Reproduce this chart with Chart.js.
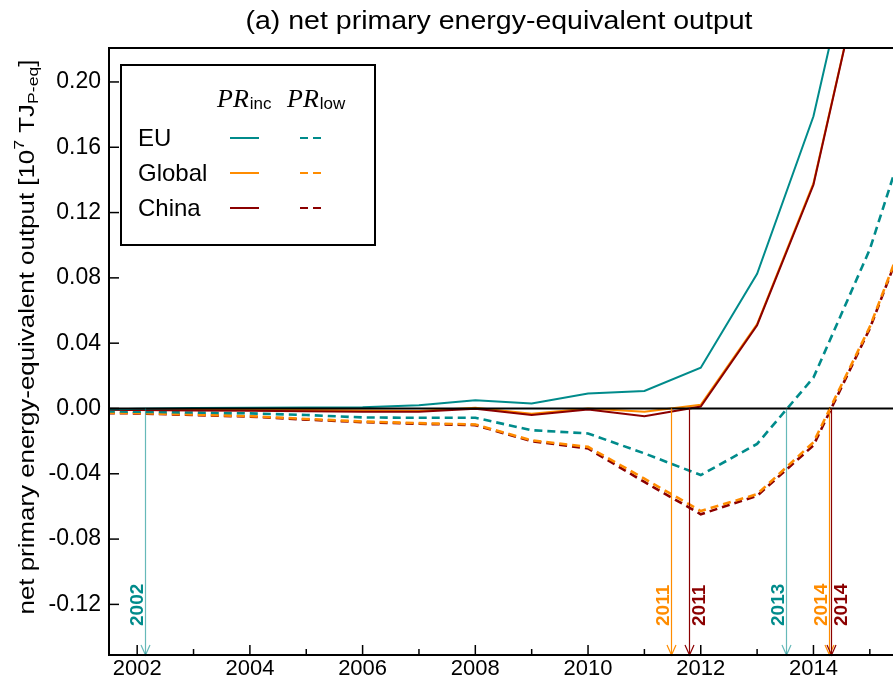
<!DOCTYPE html>
<html>
<head>
<meta charset="utf-8">
<script src="https://cdn.jsdelivr.net/npm/chart.js@4.4.1/dist/chart.umd.min.js"></script>
<style>
html, body { margin: 0; padding: 0; overflow: hidden; background: #fff; }
#caja { width: 893px; height: 682px; overflow: hidden; }
</style>
</head>
<body>
<div id="caja"><canvas id="grafico1" width="900" height="682" style="width:900px;height:682px"></canvas></div>
<script>
// datos (10^7 TJ P-eq)
var years = [2001, 2002, 2003, 2004, 2005, 2006, 2007, 2008, 2009, 2010, 2011, 2012, 2013, 2014, 2015, 2016];

var euInc     = [-0.0010, -0.0002, 0.0003, 0.0005, 0.0006, 0.0008, 0.0020, 0.0051, 0.0031, 0.0092, 0.0107, 0.0250, 0.0825, 0.1790, 0.3300, 0.4800];
var globalInc = [-0.0005, -0.0006, -0.0007, -0.0008, -0.0010, -0.0012, -0.0015, 0.0004, -0.0033, 0.0000, -0.0020, 0.0023, 0.0517, 0.1380, 0.2900, 0.4400];
var chinaInc  = [-0.0008, -0.0010, -0.0012, -0.0014, -0.0017, -0.0020, -0.0020, -0.0002, -0.0040, -0.0006, -0.0047, 0.0012, 0.0510, 0.1370, 0.2900, 0.4400];

var euLow     = [-0.0015, -0.0020, -0.0025, -0.0030, -0.0040, -0.0055, -0.0057, -0.0057, -0.0133, -0.0153, -0.0275, -0.0408, -0.0217, 0.0189, 0.0975, 0.2050];
var globalLow = [-0.0025, -0.0028, -0.0037, -0.0047, -0.0064, -0.0080, -0.0090, -0.0098, -0.0195, -0.0235, -0.0430, -0.0628, -0.0525, -0.0207, 0.0500, 0.1400];
var chinaLow  = [-0.0027, -0.0030, -0.0040, -0.0050, -0.0068, -0.0084, -0.0094, -0.0102, -0.0200, -0.0245, -0.0450, -0.0648, -0.0535, -0.0226, 0.0490, 0.1390];

// flechas: año de break-even
var arrowYears  = [2002.13, 2011.47, 2011.80, 2013.52, 2014.28, 2014.31];
var arrowLabels = ['2002', '2011', '2011', '2013', '2014', '2014'];
var arrowSeries = ['EU', 'Global', 'China', 'EU', 'Global', 'China'];

var xTicks = [2002, 2003, 2004, 2005, 2006, 2007, 2008, 2009, 2010, 2011, 2012, 2013, 2014, 2015];
var yTicks = [-0.12, -0.08, -0.04, 0.00, 0.04, 0.08, 0.12, 0.16, 0.20];

var regions = ['EU', 'Global', 'China'];
var colores = { EU: '#008b8b', Global: '#ff8c00', China: '#8b0000' };
var SANS = '"Liberation Sans", Arial, Helvetica, sans-serif';

function puntos(arr) {
    return years.map(function (yr, i) { return { x: yr, y: arr[i] }; });
}

function serie(nombre, arr, color, dashed, orden) {
    return {
        label: nombre,
        data: puntos(arr),
        borderColor: color,
        borderWidth: dashed ? 2.6 : 2,
        borderDash: dashed ? [8, 5] : [],
        pointRadius: 0,
        fill: false,
        tension: 0,
        clip: 0,
        order: orden
    };
}

function linea(ctx, x1, y1, x2, y2) {
    ctx.beginPath();
    ctx.moveTo(x1, y1);
    ctx.lineTo(x2, y2);
    ctx.stroke();
}

var extras = {
    id: 'extras',
    afterDatasetsDraw: function (chart) {
        var ctx = chart.ctx;
        var a = chart.chartArea;
        var xs = chart.scales.x, ys = chart.scales.y;
        var y0 = ys.getPixelForValue(0);
        ctx.save();

        // linea del cero
        ctx.strokeStyle = '#000';
        ctx.lineWidth = 2;
        linea(ctx, a.left, y0, a.right, y0);

        // flechas
        for (var i = 0; i < arrowYears.length; i++) {
            var x = Math.round(xs.getPixelForValue(arrowYears[i])) + 0.5;
            var col = colores[arrowSeries[i]];
            ctx.strokeStyle = arrowSeries[i] === 'EU' ? 'rgba(0,139,139,0.6)' : col;
            ctx.lineWidth = 1.2;
            linea(ctx, x, y0, x, a.bottom);
            ctx.beginPath();
            ctx.moveTo(x - 4.5, a.bottom - 10);
            ctx.lineTo(x, a.bottom);
            ctx.lineTo(x + 4.5, a.bottom - 10);
            ctx.stroke();

            ctx.save();
            var derecha = arrowSeries[i] === 'China';
            ctx.translate(derecha ? x + 15 : x - 3, 626);
            ctx.rotate(-Math.PI / 2);
            ctx.font = 'bold 19px ' + SANS;
            ctx.fillStyle = col;
            ctx.textAlign = 'left';
            ctx.textBaseline = 'alphabetic';
            ctx.fillText(arrowLabels[i], 0, 0);
            ctx.restore();
        }

        // marco
        ctx.strokeStyle = '#000';
        ctx.lineWidth = 2;
        ctx.strokeRect(a.left, a.top, a.right - a.left, a.bottom - a.top);

        // ticks hacia dentro
        ctx.lineWidth = 1.5;
        yTicks.forEach(function (v) {
            var py = ys.getPixelForValue(v);
            linea(ctx, a.left, py, a.left + 10, py);
        });
        xTicks.forEach(function (v) {
            var px = xs.getPixelForValue(v);
            linea(ctx, px, a.bottom, px, a.bottom - (v % 2 === 0 ? 10 : 6));
        });

        // leyenda
        ctx.fillStyle = '#fff';
        ctx.fillRect(121, 65, 254, 180);
        ctx.lineWidth = 2;
        ctx.strokeStyle = '#000';
        ctx.strokeRect(121, 65, 254, 180);

        ctx.fillStyle = '#000';
        ctx.textAlign = 'left';
        ctx.textBaseline = 'alphabetic';
        [['inc', 217], ['low', 287]].forEach(function (h) {
            ctx.font = 'italic 26px "Liberation Serif", "Times New Roman", serif';
            ctx.fillText('PR', h[1], 107);
            var w = ctx.measureText('PR').width;
            ctx.font = '17px ' + SANS;
            ctx.fillText(h[0], h[1] + w + 1, 109);
        });

        regions.forEach(function (r, k) {
            var yy = 138 + k * 35;
            ctx.font = '24px ' + SANS;
            ctx.fillStyle = '#000';
            ctx.fillText(r, 138, yy + 7.5);
            ctx.strokeStyle = colores[r];
            ctx.lineWidth = 2;
            ctx.setLineDash([]);
            linea(ctx, 230, yy, 259, yy);
            ctx.setLineDash([8, 5]);
            linea(ctx, 300, yy, 326, yy);
            ctx.setLineDash([]);
        });

        ctx.restore();
    },
    afterDraw: function (chart) {
        var ctx = chart.ctx;
        ctx.save();
        ctx.fillStyle = '#000';

        // titulo (estirado al ancho del original)
        ctx.font = '25px ' + SANS;
        ctx.textAlign = 'center';
        ctx.textBaseline = 'alphabetic';
        var tt = '(a) net primary energy-equivalent output';
        var sx = 507 / ctx.measureText(tt).width;
        ctx.save();
        ctx.translate(499, 29);
        ctx.scale(sx, 1);
        ctx.fillText(tt, 0, 0);
        ctx.restore();

        // titulo eje y con superindice y subindice
        var partes = [
            { t: 'net primary energy-equivalent output [10', s: 22, dy: 0 },
            { t: '7', s: 15, dy: -10 },
            { t: ' TJ', s: 22, dy: 0 },
            { t: 'P-eq', s: 15, dy: 4 },
            { t: ']', s: 22, dy: 0 }
        ];
        var total = 0;
        partes.forEach(function (p) {
            ctx.font = p.s + 'px ' + SANS;
            p.w = ctx.measureText(p.t).width;
            total += p.w;
        });
        var k = 555 / total;
        ctx.translate(34, 337);
        ctx.rotate(-Math.PI / 2);
        ctx.scale(k, 1);
        ctx.textAlign = 'left';
        var cx = -total / 2;
        partes.forEach(function (p) {
            ctx.font = p.s + 'px ' + SANS;
            ctx.fillText(p.t, cx, p.dy);
            cx += p.w;
        });
        ctx.restore();
    }
};

var ctx = document.getElementById('grafico1');
var myChart = new Chart(ctx, {
    type: 'line',
    data: {
        datasets: [
            serie('EU PRinc', euInc, colores.EU, false, 1),
            serie('China PRinc', chinaInc, colores.China, false, 2),
            serie('Global PRinc', globalInc, colores.Global, false, 3),
            serie('EU PRlow', euLow, colores.EU, true, 4),
            serie('Global PRlow', globalLow, colores.Global, true, 5),
            serie('China PRlow', chinaLow, colores.China, true, 6)
        ]
    },
    options: {
        responsive: false,
        animation: false,
        layout: { padding: { top: 48, right: 2, left: 0, bottom: 0 } },
        plugins: {
            legend: { display: false },
            title: { display: false },
            tooltip: { enabled: false }
        },
        scales: {
            x: {
                type: 'linear',
                min: 2001.5,
                max: 2015.5,
                afterBuildTicks: function (s) { s.ticks = xTicks.map(function (v) { return { value: v }; }); },
                afterFit: function (s) { s.height = 27; },
                grid: { display: false, drawTicks: false },
                border: { display: false },
                ticks: {
                    autoSkip: false,
                    maxRotation: 0,
                    padding: 1,
                    color: '#000',
                    font: { family: SANS, size: 22 },
                    callback: function (v) { return v % 2 === 0 ? String(v) : ''; }
                }
            },
            y: {
                type: 'linear',
                min: -0.151,
                max: 0.2208,
                afterBuildTicks: function (s) { s.ticks = yTicks.map(function (v) { return { value: v }; }); },
                afterFit: function (s) { s.width = 109; },
                grid: { display: false, drawTicks: false },
                border: { display: false },
                ticks: {
                    padding: 8,
                    color: '#000',
                    font: { family: SANS, size: 23 },
                    callback: function (v) { return v.toFixed(2); }
                }
            }
        }
    },
    plugins: [extras]
});
</script>
</body>
</html>
